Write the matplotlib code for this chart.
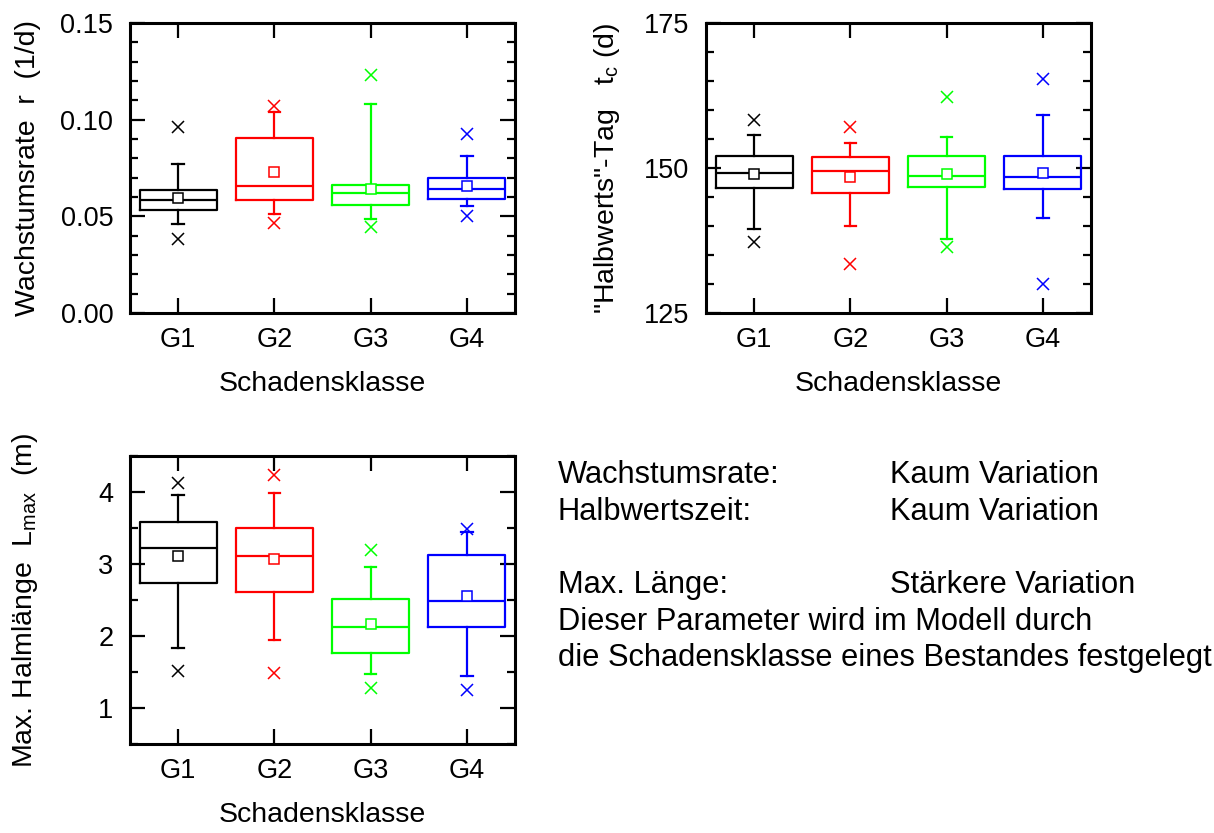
import matplotlib
matplotlib.use("Agg")
import matplotlib.pyplot as plt
from matplotlib.ticker import MultipleLocator, FormatStrFormatter

plt.rcParams['font.family'] = ['Liberation Sans', 'DejaVu Sans']
plt.rcParams['mathtext.default'] = 'regular'

groups = ['G1', 'G2', 'G3', 'G4']
colors = ['#000000', '#ff0000', '#00ff00', '#0000ff']

# Wachstumsrate r (1/d)
rate_q1 = [0.0533, 0.0585, 0.0560, 0.0590]
rate_med = [0.0585, 0.0657, 0.0621, 0.0643]
rate_q3 = [0.0636, 0.0904, 0.0664, 0.0698]
rate_mean = [0.0597, 0.0728, 0.0641, 0.0657]
rate_wlo = [0.0459, 0.0512, 0.0486, 0.0552]
rate_whi = [0.0769, 0.1040, 0.1083, 0.0812]
rate_min = [0.0381, 0.0464, 0.0445, 0.0503]
rate_max = [0.0964, 0.1072, 0.1230, 0.0924]

# "Halbwerts"-Tag t_c (d)
tc_q1 = [146.5, 145.7, 146.7, 146.3]
tc_med = [149.1, 149.4, 148.7, 148.4]
tc_q3 = [152.1, 151.9, 152.0, 152.1]
tc_mean = [149.0, 148.4, 149.0, 149.2]
tc_wlo = [139.5, 140.0, 137.8, 141.4]
tc_whi = [155.7, 154.3, 155.3, 159.2]
tc_min = [137.2, 133.4, 136.3, 130.0]
tc_max = [158.2, 157.1, 162.2, 165.3]

# Max. Halmlaenge L_max (m)
lmax_q1 = [2.73, 2.61, 1.76, 2.12]
lmax_med = [3.22, 3.11, 2.12, 2.49]
lmax_q3 = [3.59, 3.50, 2.51, 3.12]
lmax_mean = [3.11, 3.07, 2.16, 2.56]
lmax_wlo = [1.84, 1.94, 1.47, 1.44]
lmax_whi = [3.96, 3.98, 2.96, 3.45]
lmax_min = [1.52, 1.48, 1.28, 1.25]
lmax_max = [4.12, 4.24, 3.19, 3.49]

notes_left = ['Wachstumsrate:', 'Halbwertszeit:', '', 'Max. Länge:',
              'Dieser Parameter wird im Modell durch',
              'die Schadensklasse eines Bestandes festgelegt']
notes_right = ['Kaum Variation', 'Kaum Variation', '', 'Stärkere Variation', '', '']

TICK_FS = 19.5
LABEL_FS = 20.5


def draw_boxes(ax, q1, med, q3, mean, wlo, whi, vmin, vmax):
    for i, c in enumerate(colors):
        stats = [dict(q1=q1[i], med=med[i], q3=q3[i], mean=mean[i],
                      whislo=wlo[i], whishi=whi[i], fliers=[vmin[i], vmax[i]])]
        lp = dict(color=c, linewidth=1.6)
        ax.bxp(stats, positions=[i + 1], widths=0.8, capwidths=0.12,
               showmeans=True, patch_artist=False,
               boxprops=lp, whiskerprops=lp, capprops=lp, medianprops=lp,
               meanprops=dict(marker='s', markerfacecolor='white',
                              markeredgecolor=c, markersize=6.5,
                              markeredgewidth=1.1),
               flierprops=dict(marker='x', markeredgecolor=c,
                               markersize=8, markeredgewidth=1.1))


def style_axes(ax, ylim, major, minor, fmt, ylabel, ylab_x):
    ax.set_xlim(0.5, 4.5)
    ax.set_ylim(*ylim)
    ax.set_xticks([1, 2, 3, 4])
    ax.set_xticklabels(groups)
    ax.yaxis.set_major_locator(MultipleLocator(major))
    ax.yaxis.set_minor_locator(MultipleLocator(minor))
    if fmt:
        ax.yaxis.set_major_formatter(FormatStrFormatter(fmt))
    for s in ax.spines.values():
        s.set_linewidth(2.2)
    ax.tick_params(which='both', direction='in', top=True, right=True,
                   width=1.6, labelsize=TICK_FS)
    ax.tick_params(which='major', length=11)
    ax.tick_params(which='minor', length=6)
    ax.tick_params(axis='x', which='minor', top=False, bottom=False)
    ax.tick_params(axis='x', pad=10)
    ax.tick_params(axis='y', pad=12)
    ax.set_xlabel('Schadensklasse', fontsize=LABEL_FS, labelpad=13)
    ax.set_ylabel(ylabel, fontsize=LABEL_FS, va='center')
    ax.yaxis.set_label_coords(ylab_x, 0.5)


fig = plt.figure(figsize=(12.14, 8.33), dpi=100)

ax1 = fig.add_axes([0.1071, 0.6242, 0.3171, 0.3482])
ax2 = fig.add_axes([0.5815, 0.6242, 0.3171, 0.3482])
ax3 = fig.add_axes([0.1071, 0.1068, 0.3171, 0.3458])

draw_boxes(ax1, rate_q1, rate_med, rate_q3, rate_mean, rate_wlo, rate_whi, rate_min, rate_max)
style_axes(ax1, (0, 0.15), 0.05, 0.01, '%.2f', 'Wachstumsrate  r  (1/d)', -0.265)

draw_boxes(ax2, tc_q1, tc_med, tc_q3, tc_mean, tc_wlo, tc_whi, tc_min, tc_max)
style_axes(ax2, (125, 175), 25, 5, '%d', '"Halbwerts"-Tag   t$_\\mathregular{c}$ (d)', -0.257)

draw_boxes(ax3, lmax_q1, lmax_med, lmax_q3, lmax_mean, lmax_wlo, lmax_whi, lmax_min, lmax_max)
style_axes(ax3, (0.5, 4.5), 1, 0.5, '%d', 'Max. Halmlänge  L$_\\mathregular{max}$  (m)', -0.272)

# notes on the right
line_y = [475, 512, 548, 585, 622, 658]
for txt_l, txt_r, y in zip(notes_left, notes_right, line_y):
    yf = 1 - y / 833
    if txt_l:
        fig.text(558 / 1214, yf, txt_l, fontsize=22.2, va='center', ha='left')
    if txt_r:
        fig.text(890 / 1214, yf, txt_r, fontsize=22.2, va='center', ha='left')

fig.savefig('out.png', dpi=100)
